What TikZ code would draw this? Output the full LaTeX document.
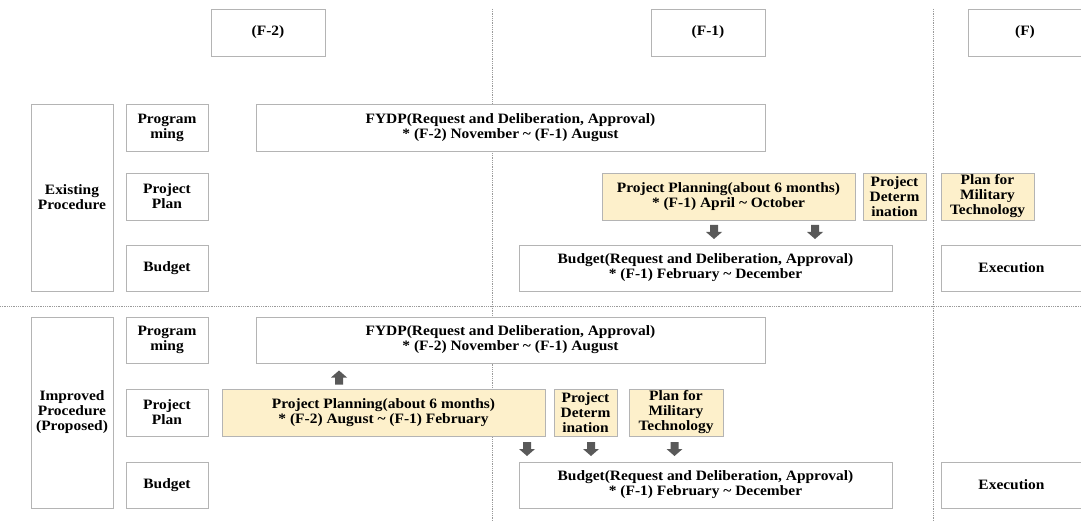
\documentclass[tikz,border=0pt]{standalone}
\usepackage{fontspec}
\setmainfont{Liberation Serif}[FakeStretch=1.08]
\definecolor{bordergray}{HTML}{B4B4B4}
\definecolor{beige}{HTML}{FDF0CB}
\definecolor{arrowgray}{HTML}{595959}
\definecolor{dotgray}{HTML}{9A9A9A}
\newcommand{\bx}[7][]{%
  \node[box,#1,minimum width={(#5-#3)*1pt},minimum height={(#6-#4)*1pt}] (#2) at ({(#3+#5)/2},{(#4+#6)/2}) {#7};}
\begin{document}
\begin{tikzpicture}[x=1pt,y=-1pt,
  box/.style={draw=bordergray,line width=0.8pt,fill=white,inner sep=0pt,outer sep=0pt,
    align=center,font=\fontsize{14.3}{15}\selectfont\bfseries},
  plan/.style={fill=beige},
  txt/.style={inner sep=0pt,align=center,font=\fontsize{14.3}{15}\selectfont\bfseries},
  pics/dnarrow/.style={code={\fill[arrowgray] (-4,-7) -- (4,-7) -- (4,0) -- (8,0) -- (0,7) -- (-8,0) -- (-4,0) -- cycle;}},
  pics/uparrow/.style={code={\fill[arrowgray] (-4,7) -- (4,7) -- (4,0) -- (8,0) -- (0,-7) -- (-8,0) -- (-4,0) -- cycle;}},
  sep/.style={dotgray,line width=0.8pt,densely dotted}]
\useasboundingbox (0,0) rectangle (1081,521);
% separators
\coordinate (v1t) at (492,9); \coordinate (v1b) at (492,521);
\coordinate (v2t) at (933,9); \coordinate (v2b) at (933,521);
\coordinate (hl) at (0,306); \coordinate (hr) at (1081,306);
\draw[sep] (v1t) -- (v1b);
\draw[sep] (v2t) -- (v2b);
\draw[sep] (hl) -- (hr);
% headers
\bx{F2}{211}{9}{325}{56}{(F-2)}
\bx{F1}{651}{9}{765}{56}{(F-1)}
\bx{F0}{968}{9}{1100}{56}{}
\node[txt] (F0t) at (1025,32.5) {(F)};
% existing procedure
\bx{ex}{31}{104}{113}{291}{Existing\\Procedure}
\bx{exprog}{126}{104}{208}{151}{Program\\ming}
\bx{explan}{126}{173}{208}{220}{Project\\Plan}
\bx{exbud}{126}{245}{208}{291}{Budget}
\bx{exfydp}{256}{104}{765}{151}{FYDP(Request and Deliberation, Approval)\\* (F-2) November \textasciitilde{} (F-1) August}
\bx[plan]{expp}{602}{173}{855}{220}{Project Planning(about 6 months)\\* (F-1) April \textasciitilde{} October}
\bx[plan]{expd}{863}{173}{926}{220}{Project\\Determ\\ination}
\bx[plan]{expmt}{941}{173}{1034}{220}{Plan for\\Military\\Technology}
\bx{exbudget}{519}{245}{892}{291}{Budget(Request and Deliberation, Approval)\\* (F-1) February \textasciitilde{} December}
\bx{exexec}{941}{245}{1100}{291}{}
\node[txt] (exexect) at (1011.5,268) {Execution};
\pic at (714,232) {dnarrow};
\pic at (815,232) {dnarrow};
% improved procedure
\bx{im}{31}{317}{113}{508}{Improved\\Procedure\\(Proposed)}
\bx{improg}{126}{317}{208}{363}{Program\\ming}
\bx{implan}{126}{389}{208}{436}{Project\\Plan}
\bx{imbud}{126}{462}{208}{508}{Budget}
\bx{imfydp}{256}{317}{765}{363}{FYDP(Request and Deliberation, Approval)\\* (F-2) November \textasciitilde{} (F-1) August}
\bx[plan]{impp}{222}{389}{545}{436}{Project Planning(about 6 months)\\* (F-2) August \textasciitilde{} (F-1) February}
\bx[plan]{impd}{554}{389}{617}{436}{Project\\Determ\\ination}
\bx[plan]{impmt}{629}{389}{723}{436}{Plan for\\Military\\Technology}
\bx{imbudget}{519}{462}{892}{508}{Budget(Request and Deliberation, Approval)\\* (F-1) February \textasciitilde{} December}
\bx{imexec}{941}{462}{1100}{508}{}
\node[txt] (imexect) at (1011.5,485) {Execution};
\pic at (339,377.5) {uparrow};
\pic at (527,449) {dnarrow};
\pic at (591,449) {dnarrow};
\pic at (674.5,449) {dnarrow};
\end{tikzpicture}
\end{document}
